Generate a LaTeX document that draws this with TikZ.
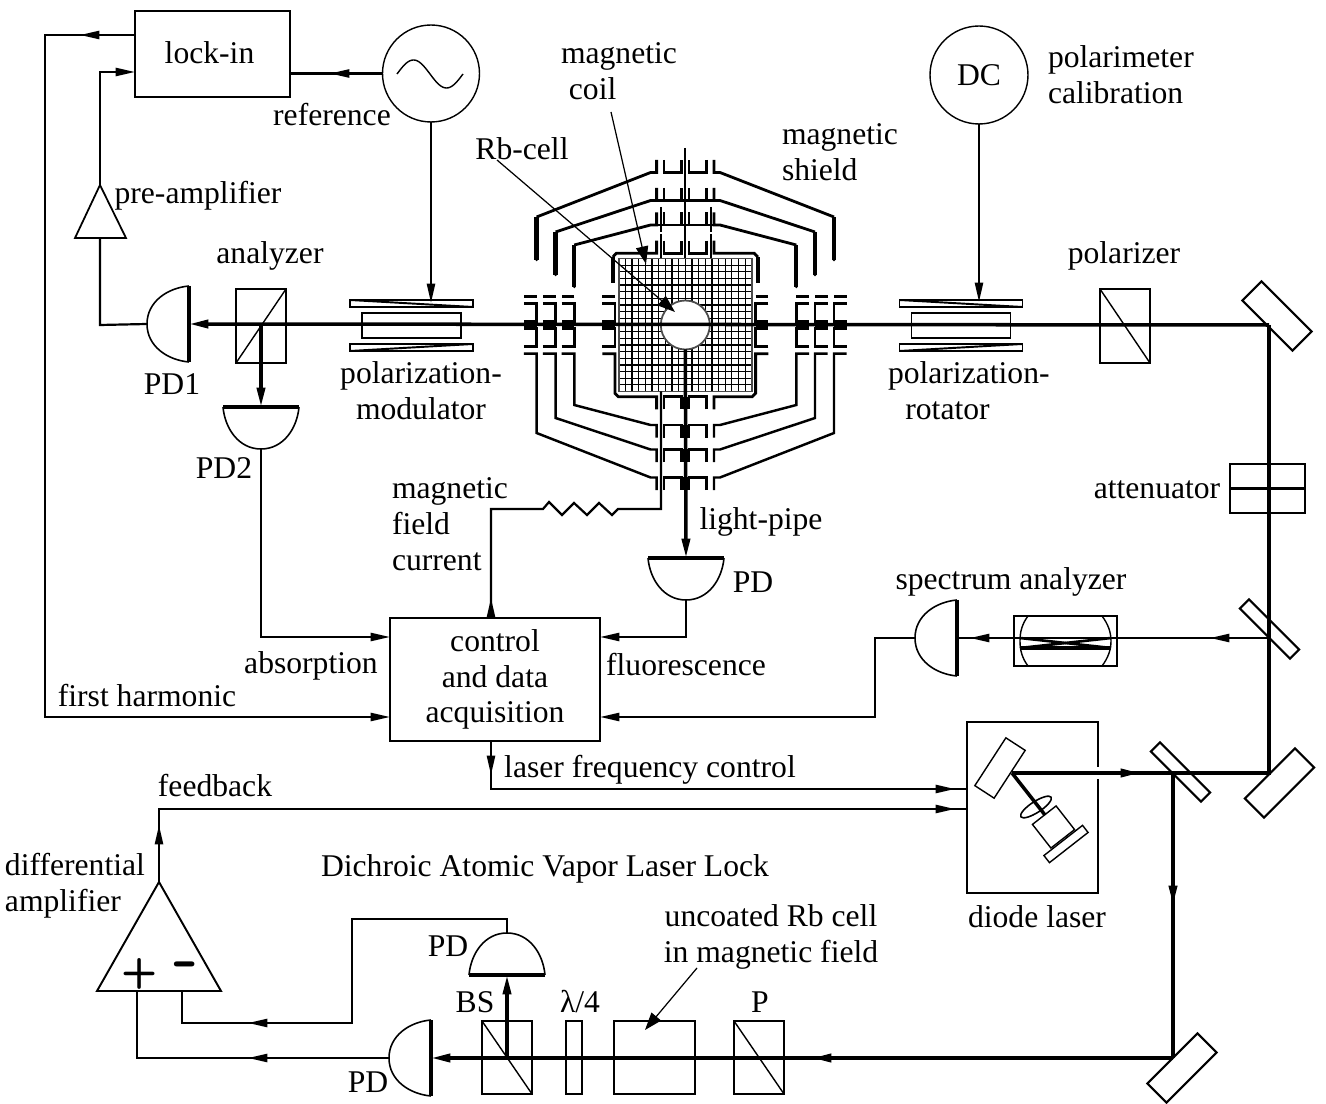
\documentclass[tikz,border=0pt]{standalone}
\usepackage{fontspec}
\setmainfont{Liberation Serif}
\usetikzlibrary{arrows.meta,shapes.geometric}
\tikzset{
  sigtip/.tip={Triangle[length=11pt,width=4.6pt]},
  bigtip/.tip={Triangle[length=10pt,width=7pt]},
  sig/.style={line width=1.25pt, line join=miter},
  beam/.style={line width=2pt, line join=miter},
  fatbeam/.style={line width=3.6pt},
  cont/.style={shorten <=-8pt},
  optic/.style={draw, line width=0.8pt, inner sep=0pt, outer sep=0pt},
  pxbox/.style 2 args={minimum width=#1*0.02cm, minimum height=#2*0.02cm},
  mirrorbox/.style={draw, fill=white, line width=1.2pt, inner sep=0pt, outer sep=0pt},
  lbl/.style={inner sep=0pt, outer sep=0pt},
  callout/.style={-bigtip, line width=0.7pt},
  wallthin/.style={line width=1.4pt, line join=miter},
  wallmid/.style={line width=1.6pt, line join=miter},
  wallthick/.style={line width=2.4pt},
  gridln/.style={line width=0.7pt, black},
}
% half-disc detector, flat face at the centre, back bulging to local -x
\newcommand{\detector}[3]{%
  \begin{scope}[shift={#2},rotate=#3]
    \draw[line width=0.9pt] (0,-38) .. controls (-22,-36) and (-42,-22) .. (-42,0)
      .. controls (-42,22) and (-22,36) .. (0,38);
    \draw[beam] (0,-38) -- (0,38);
    \coordinate (#1flat) at (0,0);
    \coordinate (#1back) at (-42,0);
  \end{scope}
}
% two wedged plates round a crystal
\newcommand{\wedgecell}[1]{%
  \begin{scope}[shift={#1}]
    \draw[line width=0.8pt] (-61.5,-25) rectangle (61.5,-18);
    \draw[line width=0.8pt] (-61.5,19) rectangle (61.5,26);
    \draw[line width=0.8pt] (-49.5,-12) rectangle (49.5,13);
    \draw[line width=1.1pt] (-61.5,-25) -- (61.5,-18);
    \draw[line width=1.1pt] (-61.5,26) -- (61.5,19);
  \end{scope}
}
% one shield round the cell, #1 half width, #2 half height, #3 corner, #4 end of upper wall
\newcommand{\shieldring}[4]{%
  \foreach \sx in {1,-1}{
    \begin{scope}[xscale=\sx]
      \draw[wallthin] (28.7,#2+12.7) -- (28.7,#2) -- (34.7,#2) -- (#1,#3) -- (#1,28.7) -- (#1+12.7,28.7);
      \draw[wallmid] (28.7,-#2-12.7) -- (28.7,-#2) -- (34.7,-#2) -- (#1,-#3);
      \draw[wallthick] (#1,-#3) -- (#1,-#4);
      \fill (#1,-#4) circle (1.3);
      \draw[wallthin] (#1,-28.7) -- (#1+12.7,-28.7);
      \foreach \sy in {1,-1}{
        \draw[wallthin] (21.3,\sy*#2+\sy*12.7) -- (21.3,\sy*#2) -- (3.7,\sy*#2) -- (3.7,\sy*#2+\sy*12.7);
        \draw[wallthin] (#1+12.7,\sy*21.3) -- (#1,\sy*21.3) -- (#1,\sy*3.7) -- (#1+12.7,\sy*3.7);
      }
      \draw[fatbeam] (#1,0) -- (#1+12.7,0);
    \end{scope}
  }
  \draw[fatbeam] (0,#2) -- (0,#2+12.7);
}

\begin{document}
\begin{tikzpicture}[x=0.02cm,y=-0.02cm,font=\fontsize{18}{20.4}\selectfont]
  \useasboundingbox (0,0) rectangle (1326,1104);

  % electronics
  \node[optic, pxbox={155}{86}] (lockin) at (212.5,54) {\raisebox{2.2pt}{lock-in\hspace{3.4pt}}};
  \node[draw, circle, line width=0.8pt, minimum size=1.94cm, inner sep=0pt, outer sep=0pt] (refgen) at (431,73.5) {};
  \draw[line width=0.8pt] plot[domain=0:360, samples=50] ({397+\x/360*66},{74-14*sin(\x)});
  \node[draw, circle, line width=0.8pt, minimum size=1.96cm, inner sep=0pt, outer sep=0pt] (dcgen) at (979,75) {DC};
  \node[optic, pxbox={210}{123}, align=center] (daq) at (495,679.5) {control\\and data\\acquisition};

  % Rb cell, coil and shields
  \begin{scope}[shift={(685.3,325)}]
    \foreach \g in {-10,...,10}{
      \draw[gridln] (\g*6.65,-66.5) -- (\g*6.65,66.5);
      \draw[gridln] (-66.5,\g*6.65) -- (66.5,\g*6.65);
    }
    \draw[line width=0.9pt, black!70] (-66.5,-66.5) rectangle (66.5,66.5);
    \shieldring{148.7}{152.5}{108}{65}
    \shieldring{129.7}{124.5}{93}{50}
    \shieldring{111}{100}{80}{38}
    % coil
    \foreach \sx in {1,-1}{
      \begin{scope}[xscale=\sx]
        \draw[wallmid] (28.7,84.4) -- (28.7,71.7) -- (67,71.7) -- (70.3,68.3) -- (70.3,28.7) -- (83,28.7);
        \draw[wallmid] (28.7,-84.4) -- (28.7,-71.7) -- (69,-71.7) -- (72.5,-68);
        \draw[wallthick] (72.5,-68) -- (72.5,-41.7);
        \draw[wallthin] (70.3,-28.7) -- (83,-28.7);
        \foreach \sy in {1,-1}{
          \draw[wallthin] (21.3,\sy*71.7+\sy*12.7) -- (21.3,\sy*71.7) -- (3.7,\sy*71.7) -- (3.7,\sy*71.7+\sy*12.7);
          \draw[wallthin] (83,\sy*21.3) -- (70.3,\sy*21.3) -- (70.3,\sy*3.7) -- (83,\sy*3.7);
        }
        \draw[fatbeam] (70.3,0) -- (83,0);
      \end{scope}
    }
    \draw[fatbeam] (0,71.7) -- (0,84.4);
    \draw[wallmid] (-34.7,-124.5) -- (34.7,-124.5);
    \draw[wallmid] (-34.7,-100) -- (34.7,-100);
    \node[draw=black!70, fill=white, circle, line width=1pt, minimum size=0.98cm, inner sep=0pt, outer sep=0pt] (rbcell) at (0,0) {};
    \coordinate (topwire) at (0,-177);
    \coordinate (coiltop) at (0,-66.5);
    \coordinate (lwire) at (-24.3,-118);
    \coordinate (lwireb) at (-24.3,-66.5);
    \coordinate (rwire) at (25.7,-118);
    \coordinate (rwireb) at (25.7,-66.5);
    \coordinate (cwire) at (-24.3,66.5);
  \end{scope}
  \draw[sig] (topwire) -- (coiltop);
  \draw[line width=0.8pt, dash pattern=on 14pt off 1.5pt] (lwire) -- (lwireb);
  \draw[line width=0.8pt, dash pattern=on 14pt off 1.5pt] (rwire) -- (rwireb);

  % mirrors and optics on the main beam
  \node[mirrorbox, pxbox={71}{27}, rotate=-45] (mirrorA) at (1277,316) {};
  \node[mirrorbox, pxbox={71}{27}, rotate=45] (mirrorB) at (1279.5,783) {};
  \node[mirrorbox, pxbox={71}{27}, rotate=45] (mirrorC) at (1182,1068) {};
  \node[mirrorbox, pxbox={71}{13}, rotate=-45] (splitA) at (1269.5,629) {};
  \node[mirrorbox, pxbox={71}{13}, rotate=-45] (splitB) at (1180.5,772) {};
  \node[optic, pxbox={50}{74}] (polarizer) at (1125,326) {};
  \draw[line width=0.8pt] (polarizer.north west) -- (polarizer.south east);
  \node[optic, pxbox={50}{74}] (analyzer) at (261,326) {};
  \draw[line width=0.8pt] (analyzer.south west) -- (analyzer.north east);
  \node[optic, pxbox={75}{49}] (atten) at (1267.5,488.5) {};
  \draw[sig] (atten.west) -- (atten.east);
  \wedgecell{(411.5,325)}
  \wedgecell{(961,325)}

  % detectors
  \detector{pda}{(189,324)}{0}
  \detector{pdb}{(261,407)}{90}
  \detector{pdc}{(686,558)}{90}
  \detector{pdd}{(957,638)}{0}
  \detector{pde}{(431,1058)}{0}
  \detector{pdf}{(507,975)}{-90}

  % pre-amplifier
  \coordinate (preTop) at (100,185);
  \coordinate (preL) at (75,238);
  \coordinate (preR) at (126,238);
  \coordinate (preIn) at (100,238);
  \draw[line width=1pt] (preTop) -- (preL) -- (preR) -- cycle;

  % main beam
  \coordinate (cornerA) at (1269,325);
  \coordinate (cornerB) at (1269,773);
  \coordinate (gratingPt) at (1012,773);
  \coordinate (tapB) at (1173,773);
  \coordinate (beamTipA) at (1140,773);
  \draw[beam] (cornerA) -- (cornerB) -- (tapB);
  \draw[beam, shorten >=-8pt] (tapB) -- (beamTipA);
  \draw[beam, -sigtip] (gratingPt) -- (beamTipA);
  \draw[beam, -sigtip] (cornerA) -- (pdaflat);
  \coordinate (anaPt) at (261,325);
  \draw[beam, -sigtip] (anaPt) -- (pdbflat);
  \draw[beam, -sigtip] (rbcell.south) -- (pdcflat);
  \coordinate (tapA) at (1269,638);

  % Fabry-Perot
  \node[draw, line width=1.1pt, pxbox={103}{50}, inner sep=0pt, outer sep=0pt] (fabry) at (1065.5,641) {};
  \draw[line width=0.8pt] (1028,616) .. controls (1022,624) and (1020,632) .. (1020,641) .. controls (1020,650) and (1022,658) .. (1028,666);
  \draw[line width=0.8pt] (1102,616) .. controls (1108,624) and (1111,632) .. (1111,641) .. controls (1111,650) and (1108,658) .. (1102,666);
  \draw[line width=1.5pt] (1020,648) -- (1111,638);
  \draw[line width=1.5pt] (1020,638) -- (1111,648);
  \draw[line width=1.8pt] (1020,648) -- (1111,648);
  \coordinate (fpTipA) at (1210,638);
  \coordinate (fpTipB) at (970,638);
  \draw[sig, -sigtip] (tapA) -- (fpTipA);
  \draw[sig, cont, -sigtip] (fpTipA) -- (fpTipB);
  \draw[sig, cont] (fpTipB) -- (pddflat);

  % signals round the lock-in
  \coordinate (harmTip) at (80,35);
  \coordinate (harmL) at (45,35);
  \coordinate (harmB) at (45,717);
  \draw[sig, -sigtip] (lockin.west|-harmTip) -- (harmTip);
  \draw[sig, cont, -sigtip] (harmTip) -- (harmL) -- (harmB) -- (daq.west|-harmB);
  \coordinate (refTip) at (330,73.5);
  \draw[sig, -sigtip] (refgen.west) -- (refTip);
  \draw[sig, cont] (refTip) -- (lockin.east|-refTip);
  \coordinate (pdaL) at (100,325);
  \coordinate (preOutUp) at (100,72);
  \draw[sig] (pdaback) -- (pdaL) -- (preIn);
  \draw[sig, -sigtip] (preTop) -- (preOutUp) -- (lockin.west|-preOutUp);
  \draw[sig, -sigtip] (refgen.south) -- (431,303);
  \draw[sig, -sigtip] (dcgen.south) -- (979,302);

  % signals into the acquisition box
  \coordinate (absCorner) at (261,637);
  \draw[sig, -sigtip] (pdbback) -- (absCorner) -- (daq.west|-absCorner);
  \coordinate (fluoCorner) at (686,637);
  \draw[sig, -sigtip] (pdcback) -- (fluoCorner) -- (daq.east|-fluoCorner);
  \coordinate (specA) at (875,638);
  \coordinate (specB) at (875,717);
  \draw[sig, -sigtip] (pddback) -- (specA) -- (specB) -- (daq.east|-specB);

  % coil current with its resistor
  \coordinate (curTip) at (491,598);
  \coordinate (curCorner) at (491,509);
  \coordinate (curWire) at (661,509);
  \draw[sig, -sigtip] (daq.north-|curTip) -- (curTip);
  \draw[sig, cont] (curTip) -- (curCorner) -- (543,509) -- (549,502) -- (562,515) -- (574,503) -- (587,515)
    -- (599,503) -- (612,515) -- (618,509) -- (curWire) -- (cwire);

  % laser box
  \node[draw, line width=1.1pt, pxbox={131}{171}, inner sep=0pt, outer sep=0pt] (laserbox) at (1032.5,807.5) {};
  \draw[white, line width=6.8pt] (1090,773) -- (1106,773);
  \draw[beam] (1085,773) -- (1112,773);
  \node[draw, fill=white, line width=0.8pt, pxbox={57}{23}, inner sep=0pt, rotate=57] (grating) at (1000,768) {};
  \node[draw, fill=white, line width=0.8pt, pxbox={30}{30}, inner sep=0pt, rotate=38] (ldbody) at (1053.5,827) {};
  \node[draw, fill=white, line width=0.8pt, pxbox={49}{9}, inner sep=0pt, rotate=38] (ldbase) at (1066,844) {};
  \node[draw, ellipse, line width=0.9pt, minimum width=0.72cm, minimum height=0.22cm, inner sep=0pt, rotate=33] (ldlens) at (1036,807) {};
  \coordinate (ldOut) at (1045,815);
  \draw[beam] (gratingPt) -- (ldOut);

  % laser control lines
  \coordinate (ctlTip) at (491,775);
  \coordinate (ctlCorner) at (491,789);
  \coordinate (ctlMid) at (955,789);
  \coordinate (ctlEnd) at (967,789);
  \draw[sig, -sigtip] (daq.south-|ctlTip) -- (ctlTip);
  \draw[sig, cont, -sigtip] (ctlTip) -- (ctlCorner) -- (ctlMid);
  \draw[sig, cont] (ctlMid) -- (ctlEnd);

  % DAVLL branch
  \coordinate (ampTop) at (159,882);
  \coordinate (ampL) at (97,991);
  \coordinate (ampR) at (221,991);
  \coordinate (fbTip) at (159,825);
  \coordinate (fbCorner) at (159,809);
  \coordinate (fbMid) at (955,809);
  \coordinate (fbEnd) at (967,809);
  \draw[line width=1.1pt] (ampTop) -- (ampL) -- (ampR) -- cycle;
  \draw[sig, -sigtip] (ampTop) -- (fbTip);
  \draw[sig, cont, -sigtip] (fbTip) -- (fbCorner) -- (fbMid);
  \draw[sig, cont] (fbMid) -- (fbEnd);
  \node[lbl, font=\fontsize{24}{24}\sffamily\bfseries] (ampPlus) at (140,974) {+};
  \node[lbl, font=\fontsize{40}{40}\sffamily\bfseries] (ampMinus) at (186,971) {-};

  \coordinate (downTip) at (1173,905);
  \coordinate (cornerC) at (1173,1058);
  \coordinate (lowTip) at (812,1058);
  \draw[beam, -sigtip] (tapB) -- (downTip);
  \draw[beam, cont] (downTip) -- (cornerC);
  \draw[beam, -sigtip] (cornerC) -- (lowTip);
  \node[optic, pxbox={50}{73}] (polP) at (759,1057.5) {};
  \node[optic, fill=white, pxbox={81}{73}] (rbref) at (654.5,1057.5) {};
  \node[optic, fill=white, pxbox={16}{73}] (quarter) at (574,1057.5) {};
  \node[optic, fill=white, pxbox={50}{73}] (bsplit) at (507,1057.5) {};
  \draw[line width=0.8pt] (bsplit.north west) -- (bsplit.south east);
  \draw[line width=0.8pt] (polP.north west) -- (polP.south east);
  \draw[beam, cont, -sigtip] (lowTip) -- (pdeflat);
  \coordinate (bsPt) at (507,1058);
  \draw[beam, -sigtip] (bsPt) -- (pdfflat);
  \coordinate (upA) at (507,919);
  \coordinate (upB) at (352,919);
  \coordinate (upC) at (352,1023);
  \coordinate (minusTip) at (248,1023);
  \coordinate (minusEnd) at (182,1023);
  \coordinate (plusTip) at (248,1058);
  \coordinate (plusEnd) at (137,1058);
  \draw[sig, -sigtip] (pdfback) -- (upA) -- (upB) -- (upC) -- (minusTip);
  \draw[sig, cont] (minusTip) -- (minusEnd) -- (182,991);
  \draw[sig, -sigtip] (pdeback) -- (plusTip);
  \draw[sig, cont] (plusTip) -- (plusEnd) -- (137,991);

  % labels
  \node[lbl] (lblRef) at (332,115) {reference};
  \node[lbl] (lblPre) at (198,196) {pre-amplifier};
  \node[lbl] (lblAna) at (270,256) {analyzer};
  \node[lbl] (lblPda) at (172,384) {PD1};
  \node[lbl] (lblPdb) at (224,468) {PD2};
  \node[lbl, align=center] (lblMod) at (421,391) {polarization-\\modulator};
  \node[lbl, align=left, anchor=west] (lblRot) at (888,391) {polarization-\\\hspace*{0.55em}rotator};
  \node[lbl] (lblPol) at (1124,256) {polarizer};
  \node[lbl, align=left, anchor=west] (lblCal) at (1048,75) {polarimeter\\calibration};
  \node[lbl, align=left, anchor=west] (lblShield) at (782,152) {magnetic\\shield};
  \node[lbl, align=left, anchor=west] (lblCoil) at (561,71) {magnetic\\\hspace*{4.5pt}coil};
  \node[lbl] (lblCell) at (522,149) {Rb-cell};
  \node[lbl, align=left, anchor=west] (lblCur) at (392,524) {magnetic\\field\\current};
  \node[lbl] (lblPipe) at (761,522) {light-pipe};
  \node[lbl] (lblPdc) at (753,582) {PD};
  \node[lbl] (lblAtt) at (1157,490) {attenuator};
  \node[lbl] (lblSpec) at (1011,582) {spectrum analyzer};
  \node[lbl] (lblAbs) at (311,666) {absorption};
  \node[lbl] (lblFluo) at (686,665) {fluorescence};
  \node[lbl] (lblHarm) at (147,696) {first harmonic};
  \node[lbl] (lblCtl) at (650,770) {laser frequency control};
  \node[lbl] (lblFb) at (215,786) {feedback};
  \node[lbl, align=left, anchor=west] (lblAmp) at (5,886) {differential\\amplifier};
  \node[lbl] (lblDav) at (545,869) {Dichroic Atomic Vapor Laser Lock};
  \node[lbl] (lblDio) at (1037,917) {diode laser};
  \node[lbl, align=center] (lblUnc) at (771,937) {uncoated Rb cell\\in magnetic field};
  \node[lbl] (lblP) at (760,1002) {P};
  \node[lbl] (lblQ) at (580,1002) {λ/4};
  \node[lbl] (lblBs) at (475,1002) {BS};
  \node[lbl] (lblPdf) at (448,946) {PD};
  \node[lbl] (lblPde) at (368,1082) {PD};

  % pointers to parts
  \coordinate (cellFrom) at (497,160);
  \coordinate (cellTip) at (675,312);
  \coordinate (coilFrom) at (611,112);
  \coordinate (coilTip) at (646,264);
  \coordinate (refFrom) at (697,968);
  \coordinate (refTip2) at (645,1030);
  \draw[callout] (cellFrom) -- (cellTip);
  \draw[callout] (coilFrom) -- (coilTip);
  \draw[callout] (refFrom) -- (refTip2);
\end{tikzpicture}
\end{document}
